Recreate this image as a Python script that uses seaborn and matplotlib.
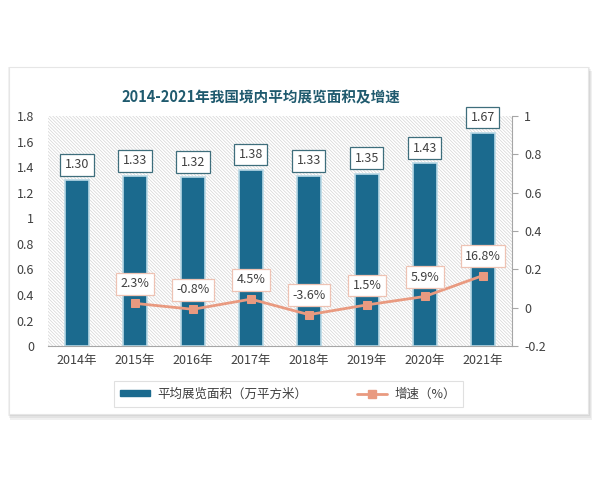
import numpy as np
import pandas as pd
import matplotlib
matplotlib.use('Agg')
import matplotlib.pyplot as plt
import seaborn as sns
from matplotlib.patches import Rectangle

sns.set_style('white')
plt.rcParams['font.family'] = ['Noto Sans CJK SC', 'DejaVu Sans']
plt.rcParams['hatch.linewidth'] = 0.5

# data
years = ['2014年', '2015年', '2016年', '2017年', '2018年', '2019年', '2020年', '2021年']
area = [1.30, 1.33, 1.32, 1.38, 1.33, 1.35, 1.43, 1.67]
growth = [np.nan, 2.3, -0.8, 4.5, -3.6, 1.5, 5.9, 16.8]

title = '2014-2021年我国境内平均展览面积及增速'
bar_name = '平均展览面积（万平方米）'
line_name = '增速（%）'

BAR = '#1b6a8e'
LINE = '#e99a80'
TXT = '#404040'

df = pd.DataFrame({'year': years, 'area': area, 'growth': growth})
df['pos'] = np.arange(len(df))
df['rate'] = df['growth'] / 100

fig = plt.figure(figsize=(6, 4.8), dpi=100)

# card behind the chart
for i, a in enumerate([0.05, 0.05, 0.06]):
    fig.patches.append(Rectangle((0.013 + i * 0.002, 0.133 - i * 0.004), 0.97, 0.728,
                                 transform=fig.transFigure, facecolor='#000000',
                                 alpha=a, lw=0, zorder=-2))
fig.patches.append(Rectangle((0.015, 0.138), 0.965, 0.722, transform=fig.transFigure,
                             facecolor='white', edgecolor='#e6e6e6', lw=0.8, zorder=-1))

ax = fig.add_axes([0.08, 0.279, 0.773, 0.479])
ax.set_facecolor('none')
ax.add_patch(Rectangle((0, 0), 1, 1, transform=ax.transAxes, facecolor='white',
                       edgecolor='#d4d4d4', hatch='\\' * 10, lw=0, zorder=0))

sns.barplot(data=df, x='year', y='area', color=BAR, saturation=1, width=0.42,
            edgecolor='#b9d9e6', linewidth=1.2, ax=ax, zorder=2)
ax.set_xlim(-0.5, len(years) - 0.5)
ax.set_ylim(0, 1.8)
ax.set_yticks(np.arange(0, 1.81, 0.2))
ax.set_yticklabels(['0', '0.2', '0.4', '0.6', '0.8', '1', '1.2', '1.4', '1.6', '1.8'])
ax.set_xlabel('')
ax.set_ylabel('')
ax.tick_params(axis='y', length=0, labelsize=9, labelcolor=TXT, pad=10)
ax.tick_params(axis='x', length=0, labelsize=9, labelcolor=TXT, pad=6)
for s in ['top', 'right', 'left']:
    ax.spines[s].set_visible(False)
ax.spines['bottom'].set_color('#a6a6a6')

for p, v in zip(ax.containers[0], area):
    ax.annotate(f'{v:.2f}', (p.get_x() + p.get_width() / 2, p.get_height()),
                xytext=(0, 11), textcoords='offset points', ha='center', va='center',
                fontsize=9, color=TXT, zorder=5,
                bbox=dict(boxstyle='square,pad=0.35', fc='white', ec='#3e6e7c', lw=0.9))

ax2 = ax.twinx()
sns.lineplot(data=df, x='pos', y='rate', color=LINE, lw=2, marker='s', markersize=6,
             markeredgecolor=LINE, ax=ax2, zorder=4)
ax2.set_ylim(-0.2, 1.0)
ax2.set_yticks(np.arange(-0.2, 1.01, 0.2))
ax2.set_yticklabels(['-0.2', '0', '0.2', '0.4', '0.6', '0.8', '1'])
ax2.set_xlabel('')
ax2.set_ylabel('')
ax2.tick_params(axis='y', length=4, color='#a6a6a6', labelsize=9, labelcolor=TXT, pad=5)
for s in ['top', 'left', 'bottom']:
    ax2.spines[s].set_visible(False)
ax2.spines['right'].set_color('#a6a6a6')

for x, g in zip(df['pos'], growth):
    if np.isnan(g):
        continue
    ax2.annotate(f'{g:.1f}%', (x, g / 100), xytext=(0, 14), textcoords='offset points',
                 ha='center', va='center', fontsize=9, color=TXT, zorder=6,
                 bbox=dict(boxstyle='square,pad=0.35', fc='white', ec='#eec3b4', lw=0.9))

fig.text(0.435, 0.798, title, ha='center', va='center', fontsize=10.5,
         fontweight='bold', color='#1f5a6e')

handles = [Rectangle((0, 0), 1, 1, color=BAR),
           plt.Line2D([], [], color=LINE, lw=2, marker='s', markersize=6)]
leg = fig.legend(handles, [bar_name, line_name], loc='center', ncol=2,
                 bbox_to_anchor=(0.48, 0.179), fontsize=9, frameon=True,
                 fancybox=False, edgecolor='#d9d9d9', handlelength=2.4,
                 handleheight=0.35, columnspacing=4, borderpad=0.5, borderaxespad=0,
                 handletextpad=0.6)
leg.get_frame().set_linewidth(0.8)
for t in leg.get_texts():
    t.set_color(TXT)

fig.savefig('out.png', dpi=100)
